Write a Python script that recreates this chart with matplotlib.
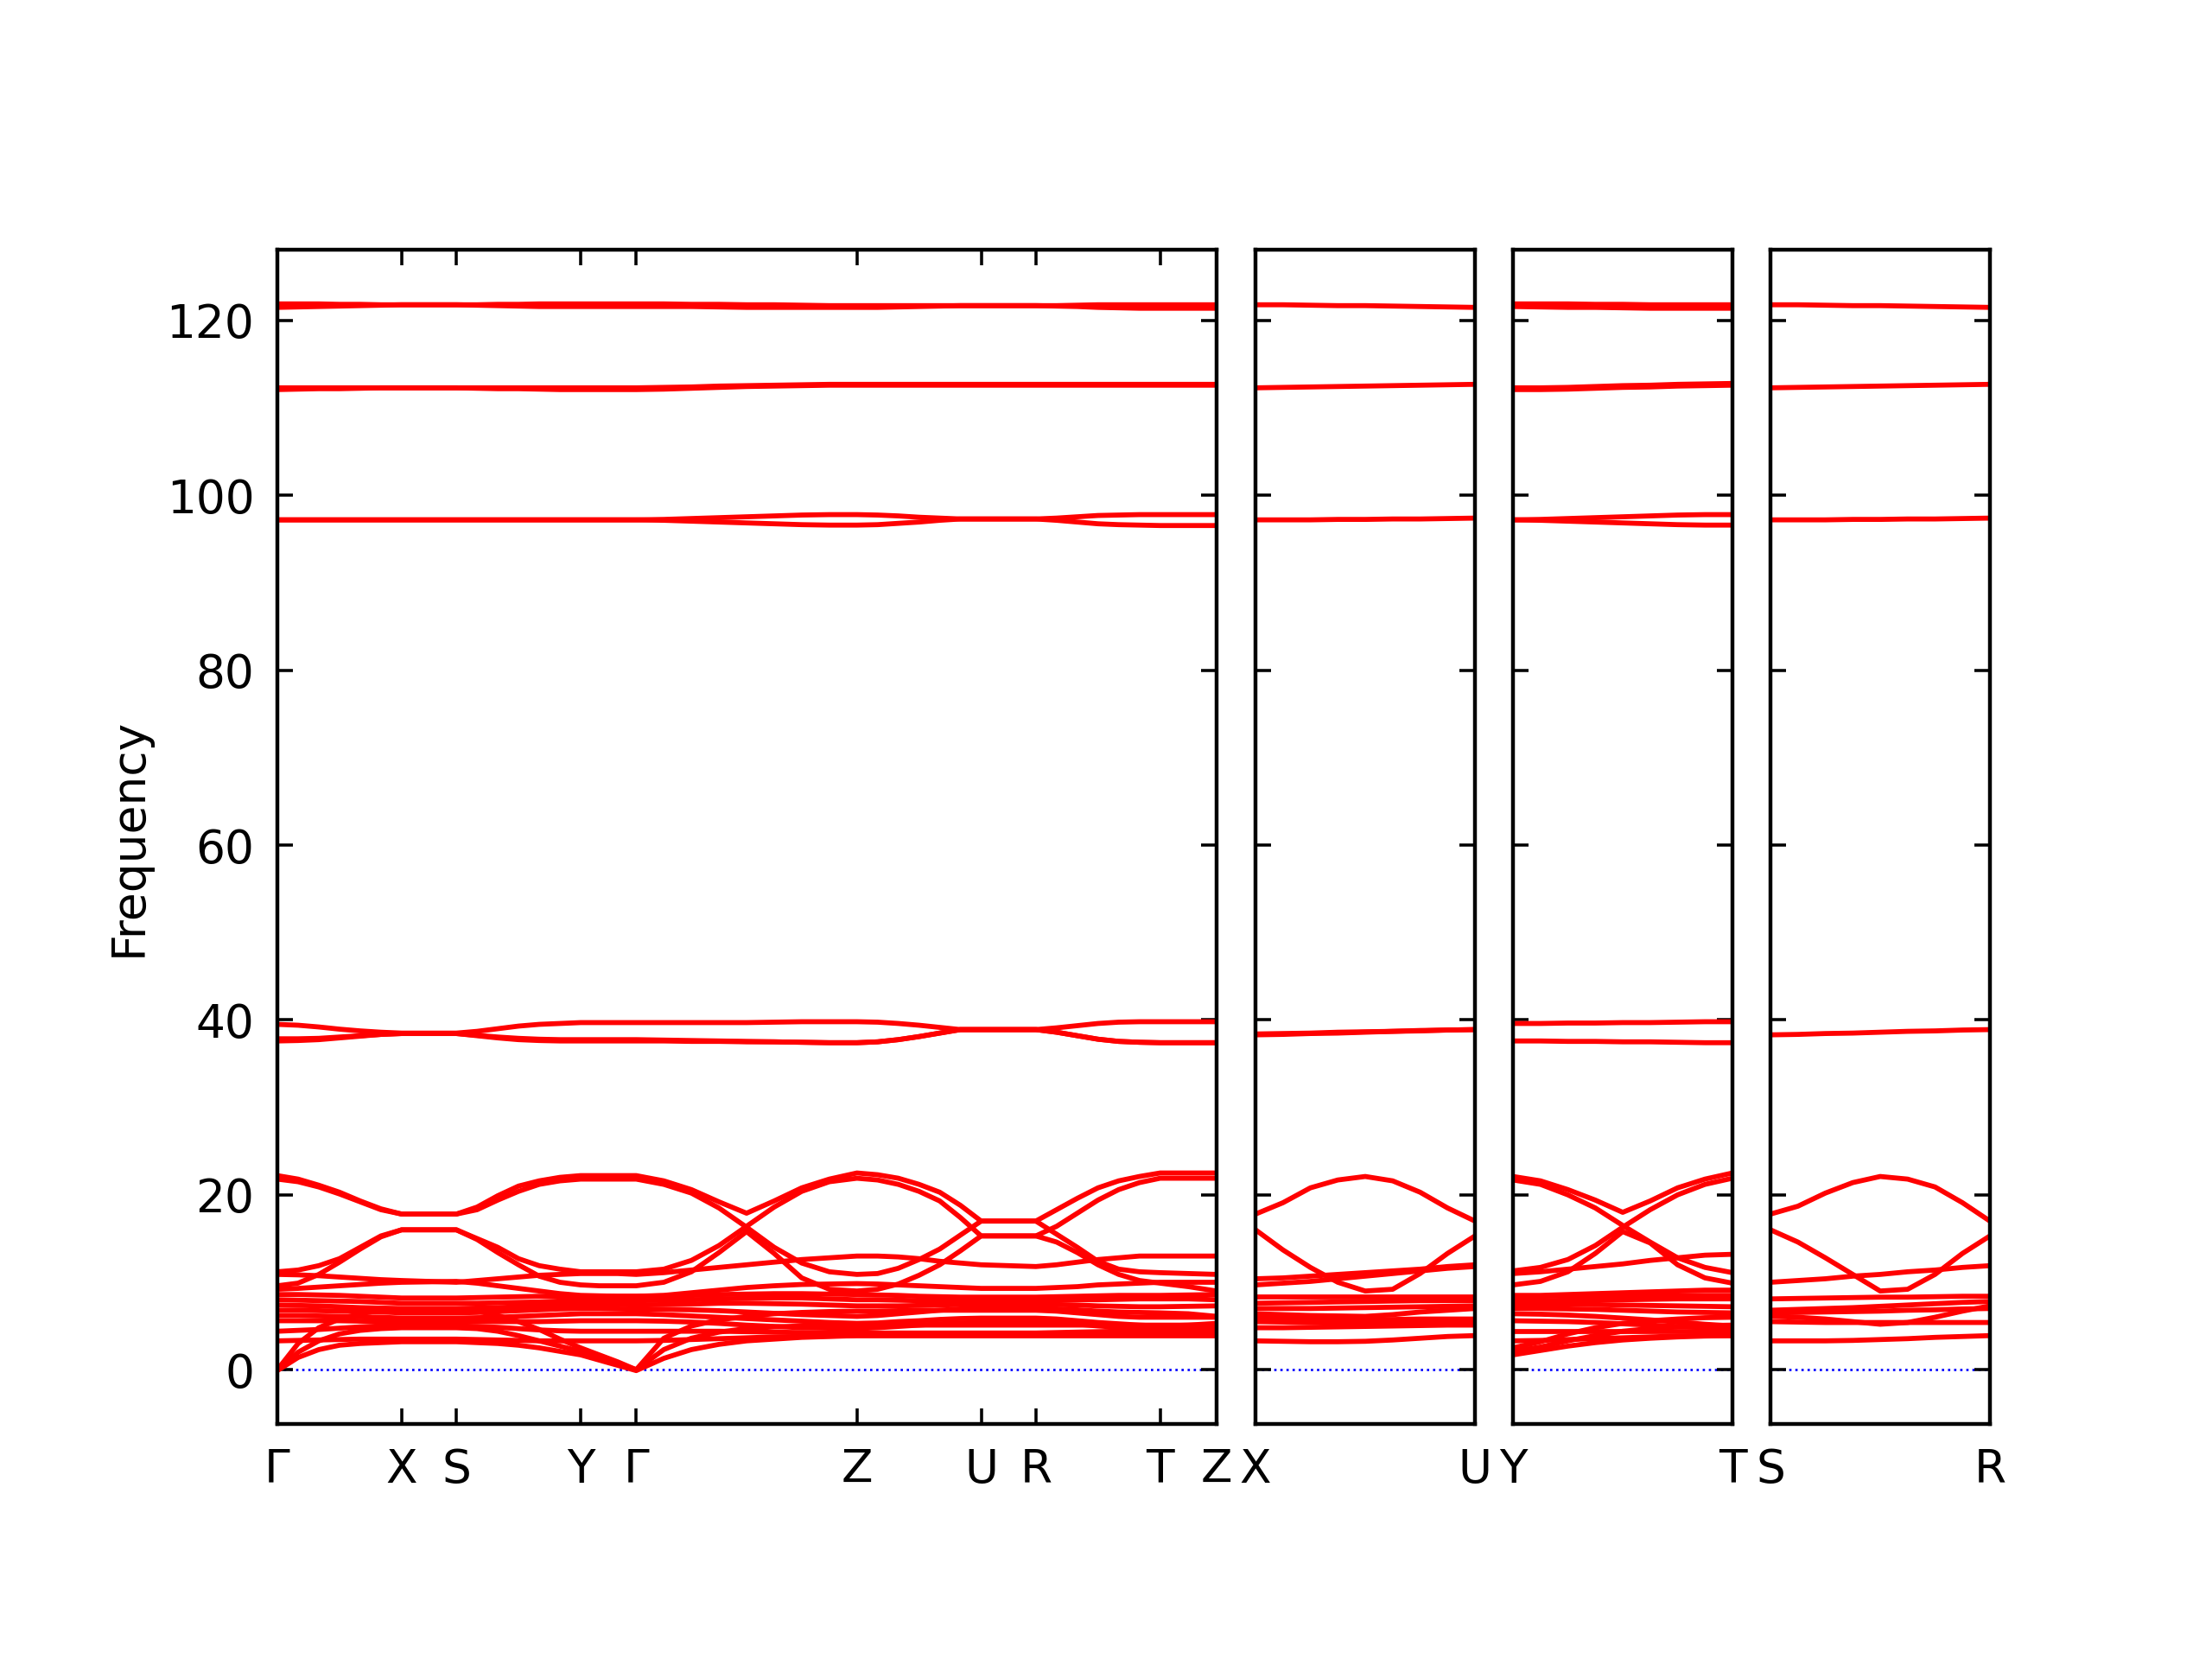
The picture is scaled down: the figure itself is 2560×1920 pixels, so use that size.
import numpy as np
import matplotlib
matplotlib.use("Agg")
import matplotlib.pyplot as plt

plt.rcParams['font.family'] = ['DejaVu Sans']

# ---------------- path description (segment lengths) ----------------
main_labels = ["Γ", "X", "S", "Y", "Γ", "Z", "U", "R", "T", "Z"]
seg_len = [1.43, 0.63, 1.43, 0.64, 2.54, 1.43, 0.63, 1.43, 0.65]
seg_nsub = [6, 2, 6, 3, 8, 6, 2, 6, 2]
panel_labels = [("X", "U"), ("Y", "T"), ("S", "R")]
panel_len = 2.54
panel_nsub = 8

# ---------------- main panel bands (42 samples along Γ-X-S-Y-Γ-Z-U-R-T-Z) ----------------
H122a = [121.9,121.9,121.9,121.85,121.85,121.8, 121.8,121.8,121.8, 121.8,121.85,121.85,121.9,121.9, 121.9,121.9,121.9, 121.9,121.9,121.85,121.85,121.8,121.8,121.75,121.7, 121.7,121.7,121.7,121.7,121.7,121.7, 121.7,121.7,121.7, 121.7,121.75,121.8,121.8,121.8, 121.8,121.8,121.8]
H122b = [121.5,121.55,121.6,121.65,121.7,121.75, 121.8,121.8,121.8, 121.75,121.7,121.65,121.6,121.6, 121.6,121.6,121.6, 121.6,121.6,121.6,121.55,121.5,121.5,121.5,121.5, 121.5,121.5,121.55,121.6,121.65,121.7, 121.7,121.7,121.7, 121.65,121.6,121.5,121.45,121.4, 121.4,121.4,121.4]
H112a = [112.3]*17 + [112.3,112.35,112.4,112.5,112.55,112.6,112.65,112.7] + [112.7]*17
H112b = [112.1,112.15,112.2,112.2,112.25,112.3, 112.3,112.3,112.3, 112.25,112.2,112.2,112.15,112.1, 112.1,112.1,112.1, 112.1,112.15,112.25,112.35,112.45,112.5,112.55,112.6] + [112.6]*17
H97a = [97.2]*17 + [97.2,97.25,97.35,97.45,97.55,97.65,97.75,97.8, 97.8,97.75,97.65,97.5,97.4,97.3, 97.3,97.3,97.3, 97.4,97.55,97.7,97.75,97.8, 97.8,97.8,97.8]
H97b = [97.2]*17 + [97.2,97.15,97.05,96.95,96.85,96.75,96.65,96.6, 96.6,96.65,96.8,96.95,97.15,97.3, 97.3,97.3,97.3, 97.15,96.95,96.75,96.65,96.6, 96.55,96.55,96.55]
H38a = [39.5,39.4,39.2,38.95,38.75,38.6, 38.5,38.5,38.5, 38.7,39.0,39.3,39.5,39.6, 39.7,39.7,39.7, 39.7,39.7,39.7,39.7,39.7,39.75,39.8,39.8, 39.8,39.75,39.6,39.4,39.15,38.9, 38.9,38.9,38.9, 39.1,39.35,39.6,39.75,39.8, 39.8,39.8,39.8]
H38b = [37.6,37.65,37.75,37.95,38.15,38.35, 38.45,38.45,38.45, 38.2,37.95,37.75,37.65,37.6, 37.6,37.6,37.6, 37.6,37.6,37.55,37.55,37.5,37.5,37.45,37.4, 37.4,37.5,37.75,38.1,38.5,38.9, 38.9,38.9,38.9, 38.6,38.2,37.8,37.55,37.45, 37.4,37.4,37.4]
H38c = [37.85,37.85,37.9,38.05,38.2,38.35, 38.45,38.45,38.45, 38.25,38.05,37.9,37.8,37.75, 37.75,37.75,37.75, 37.75,37.7,37.65,37.6,37.55,37.5,37.45,37.4, 37.4,37.5,37.75,38.1,38.5,38.9, 38.9,38.9,38.9, 38.6,38.2,37.8,37.55,37.45, 37.4,37.4,37.4]

C1 = [22.2,21.8,21.1,20.3,19.3,18.4, 17.8,17.8,17.8, 18.6,19.9,21.0,21.6,22.0, 22.2,22.2,22.2, 22.2,21.6,20.6,19.2,17.9,19.3,20.8,21.8, 22.5,22.3,21.9,21.2,20.3,18.8, 17.0,17.0,17.0, 18.3,19.6,20.8,21.6,22.1, 22.5,22.5,22.5]
C2 = [21.8,21.5,20.9,20.1,19.2,18.3, 17.8,17.8,17.8, 18.3,19.4,20.4,21.2,21.6, 21.8,21.8,21.8, 21.8,21.2,20.2,18.5,16.3,14.0,12.2,11.2, 10.9,11.0,11.6,12.6,13.8,15.4, 17.0,17.0,17.0, 15.5,14.0,12.4,11.5,11.2, 11.1,11.0,10.9]
C3 = [11.2,11.4,11.9,12.7,14.0,15.3, 16.0,16.0,16.0, 15.0,14.0,12.7,11.9,11.5, 11.2,11.2,11.2, 11.2,11.5,12.5,14.2,16.4,18.6,20.4,21.5, 21.9,21.7,21.2,20.4,19.3,17.4, 15.3,15.3,15.3, 16.4,17.9,19.4,20.6,21.4, 21.9,21.9,21.9]
C4 = [9.6,9.9,10.9,12.3,13.8,15.2, 16.0,16.0,16.0, 14.9,13.4,12.0,10.7,10.0, 9.7,9.6,9.6, 9.6,10.0,11.2,13.4,15.8,13.3,10.5,9.2, 9.0,9.2,9.8,10.8,12.0,13.6, 15.3,15.3,15.3, 14.6,13.4,12.0,10.9,10.2, 9.9,9.5,9.0]
D1 = [10.9,10.85,10.75,10.6,10.45,10.3, 10.2,10.1,10.0, 10.2,10.4,10.6,10.8,10.9, 11.0,11.0,11.0, 10.9,11.1,11.4,11.7,12.0,12.3,12.6,12.8, 13.0,13.0,12.9,12.7,12.4,12.2, 12.0,11.9,11.8, 12.0,12.3,12.6,12.8,13.0, 13.0,13.0,13.0]
E9 = [9.2,9.3,9.45,9.6,9.75,9.9, 10.0,10.05,10.1, 9.9,9.6,9.3,9.0,8.7, 8.5,8.45,8.4, 8.4,8.5,8.8,9.1,9.4,9.6,9.75,9.8, 9.85,9.8,9.7,9.6,9.5,9.4, 9.3,9.3,9.3, 9.4,9.5,9.7,9.8,9.9, 10.0,10.0,10.0]
E8 = [8.6,8.6,8.55,8.5,8.4,8.3, 8.2,8.2,8.2, 8.25,8.3,8.35,8.4,8.4, 8.4,8.4,8.4, 8.4,8.45,8.5,8.6,8.65,8.7,8.7,8.65, 8.6,8.55,8.5,8.4,8.35,8.3, 8.3,8.3,8.3, 8.35,8.4,8.45,8.5,8.5, 8.5,8.55,8.6]
E7 = [8.0,7.95,7.9,7.85,7.8,7.7, 7.6,7.6,7.6, 7.6,7.65,7.7,7.75,7.85, 7.9,7.9,7.9, 7.9,7.95,8.0,8.1,8.15,8.2,8.2,8.1, 8.0,8.0,7.95,7.9,7.9,7.9, 7.9,7.9,7.9, 7.95,8.0,8.0,8.05,8.1, 8.1,8.1,8.0]
E6 = [7.4,7.35,7.3,7.2,7.1,7.05, 7.0,7.0,7.0, 7.05,7.1,7.2,7.3,7.4, 7.5,7.5,7.45, 7.4,7.45,7.5,7.6,7.6,7.55,7.5,7.4, 7.3,7.3,7.3,7.35,7.4,7.45, 7.5,7.5,7.5, 7.45,7.4,7.3,7.25,7.2, 7.2,7.25,7.3]
E5 = [6.8,6.8,6.75,6.7,6.65,6.6, 6.5,6.5,6.5, 6.55,6.65,6.75,6.85,6.95, 7.0,7.0,6.95, 6.9,6.9,6.85,6.75,6.6,6.45,6.3,6.2, 6.1,6.2,6.4,6.6,6.8,6.95, 7.0,7.0,7.0, 6.95,6.85,6.7,6.6,6.55, 6.5,6.4,6.1]
E4 = [6.2,6.2,6.15,6.1,6.05,6.0, 5.9,5.9,5.9, 5.95,6.0,6.1,6.2,6.3, 6.4,6.4,6.4, 6.4,6.3,6.15,6.0,5.85,5.7,5.55,5.4, 5.3,5.35,5.5,5.6,5.75,5.85, 5.9,5.9,5.9, 5.8,5.6,5.4,5.25,5.1, 5.0,5.1,5.3]
E3 = [5.6,5.6,5.6,5.6,5.55,5.5, 5.5,5.5,5.5, 5.5,5.5,5.5,5.5,5.55, 5.6,5.6,5.6, 5.6,5.55,5.45,5.3,5.1,4.95,4.8,4.75, 4.7,4.8,4.95,5.1,5.25,5.35, 5.4,5.4,5.4, 5.35,5.2,5.0,4.85,4.75, 4.7,4.7,4.7]
E2 = [4.4,4.5,4.6,4.75,4.9,5.0, 5.0,5.0,5.0, 4.95,4.85,4.7,4.55,4.45, 4.4,4.4,4.4, 4.4,4.4,4.4,4.4,4.35,4.3,4.25,4.2, 4.2,4.2,4.2,4.2,4.2,4.2, 4.2,4.2,4.2, 4.25,4.3,4.35,4.4,4.4, 4.4,4.3,4.2]
E1 = [3.3,3.35,3.4,3.45,3.5,3.5, 3.5,3.5,3.5, 3.45,3.4,3.35,3.3,3.3, 3.3,3.3,3.3, 3.3,3.35,3.45,3.55,3.65,3.75,3.8,3.85] + [3.9]*17
A3 = [0.0,3.0,4.8,5.8,6.4,6.8, 6.9,6.9,6.9, 6.7,6.2,5.5,4.6,3.5, 2.5,1.7,0.9, 0.0,3.6,5.0,5.7,6.1,6.4,6.55,6.65, 6.7,6.7,6.75,6.8,6.8,6.8, 6.8,6.8,6.8, 6.7,6.5,6.3,6.1,6.0, 6.0,6.0,6.0]
A2 = [0.0,2.0,3.3,4.1,4.5,4.7, 4.8,4.8,4.8, 4.7,4.4,3.9,3.3,2.7, 2.1,1.4,0.7, 0.0,2.3,3.6,4.3,4.7,4.9,5.0,5.05] + [5.1]*17
A1 = [-0.1,1.4,2.3,2.8,3.0,3.1, 3.2,3.2,3.2, 3.1,3.0,2.8,2.5,2.1, 1.7,1.1,0.5, -0.1,1.3,2.3,2.9,3.3,3.5,3.7,3.8] + [3.9]*17

main_bands = [H122a, H122b, H112a, H112b, H97a, H97b, H38a, H38b, H38c,
              C1, C2, C3, C4, D1, E9, E8, E7, E6, E5, E4, E3, E2, E1, A3, A2, A1]

# ---------------- side panels (9 samples each) ----------------
xu_bands = [
    [121.8,121.8,121.75,121.7,121.7,121.65,121.6,121.55,121.5],
    [112.3,112.35,112.4,112.45,112.5,112.55,112.6,112.65,112.7],
    [97.2,97.2,97.2,97.25,97.25,97.3,97.3,97.35,97.4],
    [38.4,38.45,38.5,38.6,38.65,38.7,38.8,38.85,38.9],
    [38.3,38.35,38.45,38.5,38.6,38.7,38.75,38.85,38.9],
    [17.8,19.1,20.8,21.7,22.1,21.6,20.3,18.5,17.0],
    [16.0,13.7,11.7,10.0,9.0,9.2,11.0,13.3,15.3],
    [10.4,10.5,10.7,10.9,11.1,11.3,11.5,11.8,12.0],
    [9.7,9.9,10.1,10.4,10.7,11.0,11.3,11.6,11.8],
    [8.3,8.3,8.3,8.3,8.3,8.3,8.3,8.3,8.3],
    [7.6,7.65,7.7,7.75,7.8,7.85,7.9,7.9,7.9],
    [7.0,7.0,7.0,7.05,7.1,7.15,7.2,7.25,7.3],
    [6.4,6.3,6.2,6.15,6.1,6.3,6.6,6.8,7.0],
    [5.9,5.85,5.8,5.75,5.75,5.75,5.8,5.8,5.8],
    [5.5,5.45,5.4,5.4,5.4,5.4,5.4,5.4,5.4],
    [4.8,4.8,4.85,4.9,4.95,5.0,5.05,5.1,5.1],
    [3.3,3.25,3.2,3.2,3.25,3.4,3.6,3.8,3.9],
]
yt_bands = [
    [121.9,121.9,121.9,121.85,121.85,121.8,121.8,121.8,121.8],
    [121.6,121.55,121.5,121.5,121.45,121.4,121.4,121.4,121.4],
    [112.3,112.3,112.35,112.45,112.55,112.6,112.7,112.75,112.8],
    [112.1,112.1,112.15,112.25,112.35,112.4,112.5,112.55,112.6],
    [97.2,97.25,97.35,97.45,97.55,97.65,97.75,97.8,97.8],
    [97.2,97.15,97.05,96.95,96.85,96.75,96.65,96.6,96.6],
    [39.6,39.6,39.65,39.65,39.7,39.7,39.75,39.8,39.8],
    [37.6,37.6,37.55,37.55,37.5,37.5,37.45,37.4,37.4],
    [22.1,21.6,20.6,19.4,18.0,19.3,20.8,21.8,22.5],
    [21.7,21.2,20.0,18.5,16.5,14.6,12.8,11.7,11.1],
    [11.3,11.7,12.6,14.2,16.3,18.3,20.0,21.2,21.9],
    [9.7,10.1,11.2,13.3,15.8,14.5,12.0,10.5,9.9],
    [11.0,11.2,11.5,11.8,12.1,12.5,12.8,13.1,13.2],
    [8.5,8.5,8.6,8.7,8.8,8.9,9.0,9.1,9.1],
    [8.4,8.4,8.45,8.5,8.5,8.5,8.5,8.5,8.5],
    [7.9,7.9,7.95,8.0,8.0,8.05,8.1,8.1,8.1],
    [7.5,7.5,7.5,7.45,7.4,7.35,7.3,7.25,7.2],
    [7.0,7.0,6.95,6.9,6.8,6.7,6.6,6.55,6.5],
    [6.4,6.35,6.25,6.1,5.9,5.7,5.45,5.2,5.0],
    [5.6,5.55,5.5,5.4,5.25,5.1,4.95,4.8,4.7],
    [4.4,4.4,4.4,4.4,4.4,4.4,4.4,4.4,4.4],
    [3.3,3.35,3.45,3.55,3.65,3.75,3.85,3.9,3.9],
    [2.5,3.2,4.1,4.8,5.3,5.6,5.8,5.95,6.0],
    [2.1,2.6,3.3,3.9,4.4,4.7,4.9,5.05,5.1],
    [1.7,2.2,2.7,3.1,3.4,3.6,3.75,3.85,3.9],
]
sr_bands = [
    [121.8,121.8,121.75,121.7,121.7,121.65,121.6,121.55,121.5],
    [112.3,112.35,112.4,112.45,112.5,112.55,112.6,112.65,112.7],
    [97.2,97.2,97.2,97.25,97.25,97.3,97.3,97.35,97.4],
    [38.3,38.35,38.45,38.5,38.6,38.7,38.75,38.85,38.9],
    [17.8,18.7,20.2,21.4,22.1,21.8,20.9,19.1,17.0],
    [16.0,14.6,12.8,10.9,9.0,9.2,10.9,13.3,15.3],
    [10.0,10.2,10.4,10.7,10.9,11.2,11.4,11.7,11.9],
    [8.1,8.15,8.2,8.25,8.3,8.3,8.35,8.4,8.4],
    [6.8,6.9,7.0,7.1,7.25,7.4,7.55,7.7,7.8],
    [6.5,6.55,6.6,6.65,6.7,6.8,6.85,6.95,7.0],
    [6.1,6.0,5.8,5.5,5.2,5.4,6.0,6.7,7.3],
    [5.5,5.45,5.4,5.4,5.4,5.4,5.4,5.4,5.4],
    [3.3,3.3,3.3,3.35,3.45,3.55,3.7,3.8,3.9],
]
panel_bands = [xu_bands, yt_bands, sr_bands]

yticks = [0, 20, 40, 60, 80, 100, 120]
ylim = (-6.2, 128.1)

# ---------------- k-coordinates ----------------
kx = []
tick_pos = [0.0]
pos = 0.0
for L, n in zip(seg_len, seg_nsub):
    for i in range(n):
        kx.append(pos + L * i / n)
    pos += L
    tick_pos.append(pos)
kx.append(pos)
kx = np.array(kx)
pk = np.linspace(0, panel_len, panel_nsub + 1)

# ---------------- figure ----------------
fig = plt.figure(figsize=(8, 6), dpi=320)
bot, h = 0.1417, 0.7078
ax_main = fig.add_axes([0.1254, bot, 0.4246, h])
ax_p = [fig.add_axes([x0, bot, 0.0992, h]) for x0 in (0.5676, 0.6840, 0.8004)]

line_kw = dict(color='red', lw=1.3, solid_capstyle='round', solid_joinstyle='round')

def style(ax, xt, xl, xmax, ylabels):
    ax.set_xlim(0, xmax)
    ax.set_ylim(*ylim)
    ax.set_xticks(xt)
    ax.set_xticklabels(xl, fontsize=12)
    ax.set_yticks(yticks)
    if ylabels:
        ax.set_yticklabels([str(v) for v in yticks], fontsize=12)
    else:
        ax.set_yticklabels([])
    ax.tick_params(axis='both', direction='in', length=4, width=0.8,
                   top=True, right=True, pad=6)
    for s in ax.spines.values():
        s.set_linewidth(1.0)
    ax.axhline(0, color='blue', lw=0.6, ls=':', zorder=1)

for b in main_bands:
    if len(b) == len(kx):
        ax_main.plot(kx, b, **line_kw)
style(ax_main, tick_pos, main_labels, tick_pos[-1], True)
ax_main.set_ylabel("Frequency", fontsize=12)

for ax, bands, labs in zip(ax_p, panel_bands, panel_labels):
    for b in bands:
        ax.plot(pk, b, **line_kw)
    style(ax, [0, panel_len], list(labs), panel_len, False)

fig.savefig("out.png", dpi=320)
